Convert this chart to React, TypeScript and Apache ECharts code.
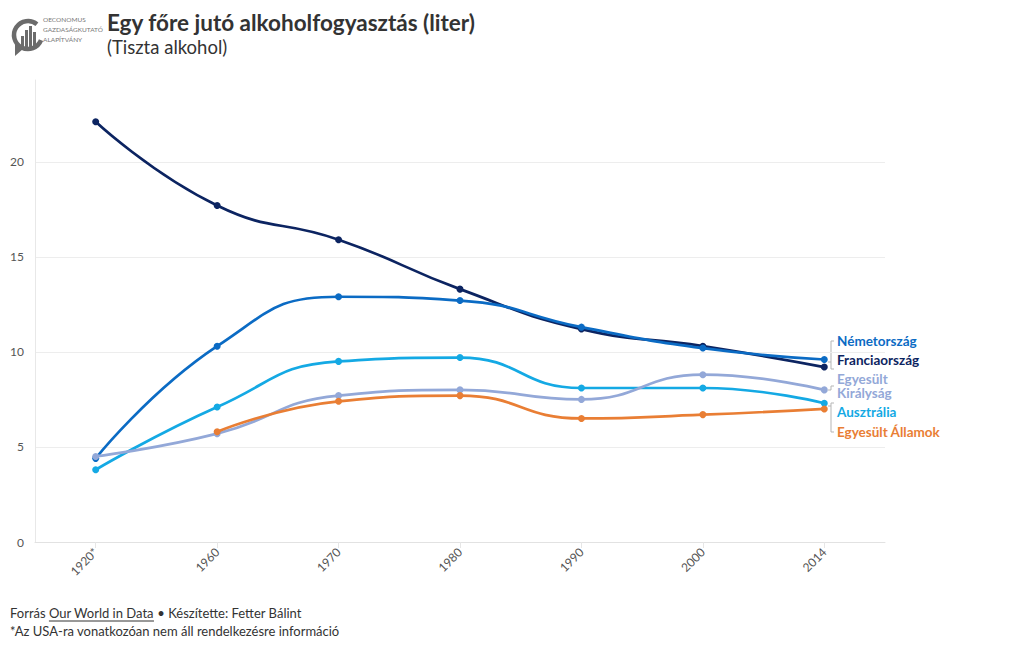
import React, { useEffect, useRef } from "react";
import * as echarts from "echarts";

const years = ["1920*", "1960", "1970", "1980", "1990", "2000", "2014"];
const france = [22.1, 17.7, 15.9, 13.3, 11.2, 10.3, 9.2];
const germany = [4.4, 10.3, 12.9, 12.7, 11.3, 10.2, 9.6];
const australia = [3.8, 7.1, 9.5, 9.7, 8.1, 8.1, 7.3];
const uk = [4.5, 5.7, 7.7, 8.0, 7.5, 8.8, 8.0];
const usa = [null, 5.8, 7.4, 7.7, 6.5, 6.7, 7.0];

const seriesNames = ["Franciaország", "Németország", "Ausztrália", "Egyesült Királyság", "Egyesült Államok"];
const seriesData = [france, germany, australia, uk, usa];
const seriesColors = ["#0c2461", "#0b6bc4", "#14a9e4", "#93a8d8", "#e97e34"];

const FONT = "'Source Sans Pro', Lato, 'Noto Sans', sans-serif";

function measure(text: string, font: string): number {
  const c = document.createElement("canvas");
  const ctx = c.getContext("2d");
  if (!ctx) return text.length * 6;
  ctx.font = font;
  return ctx.measureText(text).width;
}

export default function App() {
  const ref = useRef<HTMLDivElement>(null);
  useEffect(() => {
    document.body.style.margin = "0";
    if (!ref.current) return;
    const chart = echarts.init(ref.current, undefined, { renderer: "svg" });

    const fs = 13;
    const f1 = `${fs}px Lato`;
    const w1 = measure("Forrás ", f1);
    const w2 = measure("Our World in Data", f1);

    const labelItems = [
      { text: "Németország", y: 341, color: seriesColors[1] },
      { text: "Franciaország", y: 360, color: seriesColors[0] },
      { text: "Egyesült\nKirályság", y: 386, color: seriesColors[3] },
      { text: "Ausztrália", y: 412, color: seriesColors[2] },
      { text: "Egyesült Államok", y: 432, color: seriesColors[4] },
    ];

    const bracketStyle = { stroke: "#b5b5b5", lineWidth: 1, fill: "none" };
    const logoGray = "#6b6b6b";

    const option: any = {
      animation: false,
      backgroundColor: "#ffffff",
      textStyle: { fontFamily: FONT },
      grid: { left: 35, right: 135, top: 80, bottom: 108 },
      xAxis: {
        type: "category",
        data: years,
        boundaryGap: true,
        axisLine: { show: true, lineStyle: { color: "#e2e2e2", width: 1 } },
        axisTick: { show: true, alignWithLabel: true, length: 6, lineStyle: { color: "#e6e6e6" } },
        axisLabel: { rotate: 45, color: "#555", fontSize: 12, margin: 8, fontFamily: FONT },
        splitLine: { show: false },
      },
      yAxis: {
        type: "value",
        min: 0,
        max: 24.3,
        interval: 5,
        axisLine: { show: true, lineStyle: { color: "#e8e8e8", width: 1 } },
        axisTick: { show: false },
        axisLabel: { color: "#555", fontSize: 12, margin: 11, showMaxLabel: false, fontFamily: FONT },
        splitLine: { show: true, showMaxLine: false, lineStyle: { color: "#ededed", width: 1 } },
      },
      series: seriesNames.map((name, i) => ({
        name,
        type: "line",
        data: seriesData[i],
        smooth: 0.5,
        symbol: "circle",
        symbolSize: 7,
        showSymbol: true,
        lineStyle: { color: seriesColors[i], width: 2.7 },
        itemStyle: { color: seriesColors[i] },
        connectNulls: false,
        z: 2 + i,
      })),
      graphic: [
        // logo
        {
          type: "arc",
          shape: { cx: 28, cy: 35, r: 14, startAngle: Math.PI * 0.12, endAngle: Math.PI * 1.72, clockwise: true },
          style: { stroke: logoGray, lineWidth: 4.5, fill: "none" },
        },
        { type: "polygon", shape: { points: [[15, 44], [15, 56], [23, 49]] }, style: { fill: logoGray } },
        { type: "rect", shape: { x: 21, y: 36, width: 3, height: 11 }, style: { fill: logoGray } },
        { type: "rect", shape: { x: 25, y: 30, width: 3, height: 17 }, style: { fill: logoGray } },
        { type: "rect", shape: { x: 29, y: 26, width: 3, height: 21 }, style: { fill: logoGray } },
        { type: "rect", shape: { x: 33, y: 32, width: 3, height: 15 }, style: { fill: logoGray } },
        { type: "text", x: 43, y: 16, style: { text: "OECONOMUS", fontSize: 6.5, fill: "#777", fontFamily: FONT } },
        { type: "text", x: 43, y: 26, style: { text: "GAZDASÁGKUTATÓ", fontSize: 6.5, fill: "#777", fontFamily: FONT } },
        { type: "text", x: 43, y: 36, style: { text: "ALAPÍTVÁNY", fontSize: 6.5, fill: "#777", fontFamily: FONT } },
        // title
        {
          type: "text",
          x: 107,
          y: 11,
          style: { text: "Egy főre jutó alkoholfogyasztás (liter)", fontSize: 22.5, fontWeight: "bold", fill: "#333", fontFamily: FONT },
        },
        {
          type: "text",
          x: 107,
          y: 37,
          style: { text: "(Tiszta alkohol)", fontSize: 18.5, fill: "#333", fontFamily: FONT },
        },
        // right labels
        ...labelItems.map((l) => ({
          type: "text",
          x: 837,
          y: l.y,
          style: {
            text: l.text,
            fontSize: 13.5,
            lineHeight: 14,
            fontWeight: "bold",
            fill: l.color,
            fontFamily: FONT,
            verticalAlign: "middle",
          },
        })),
        // brackets
        { type: "polyline", shape: { points: [[834, 341], [831, 341], [831, 369], [834, 369]] }, style: bracketStyle },
        { type: "line", shape: { x1: 828, y1: 362, x2: 831, y2: 362 }, style: bracketStyle },
        { type: "polyline", shape: { points: [[828, 390], [831, 390], [831, 386], [834, 386]] }, style: bracketStyle },
        { type: "polyline", shape: { points: [[834, 403], [831, 403], [831, 432], [834, 432]] }, style: bracketStyle },
        { type: "line", shape: { x1: 828, y1: 406, x2: 831, y2: 406 }, style: bracketStyle },
        // footer
        { type: "text", x: 10, y: 606, style: { text: "Forrás ", fontSize: fs, fill: "#333", fontFamily: "Lato" } },
        { type: "text", x: 10 + w1, y: 606, style: { text: "Our World in Data", fontSize: fs, fill: "#333", fontFamily: "Lato" } },
        { type: "line", shape: { x1: 10 + w1, y1: 621, x2: 10 + w1 + w2, y2: 621 }, style: { stroke: "#333", lineWidth: 1 } },
        { type: "text", x: 10 + w1 + w2, y: 606, style: { text: " • Készítette: Fetter Bálint", fontSize: fs, fill: "#333", fontFamily: "Lato" } },
        { type: "text", x: 10, y: 624, style: { text: "*Az USA-ra vonatkozóan nem áll rendelkezésre információ", fontSize: fs, fill: "#333", fontFamily: "Lato" } },
      ],
    };

    chart.setOption(option);
    return () => chart.dispose();
  }, []);

  return <div ref={ref} style={{ position: "absolute", left: 0, top: 0, width: 1020, height: 650 }} />;
}
